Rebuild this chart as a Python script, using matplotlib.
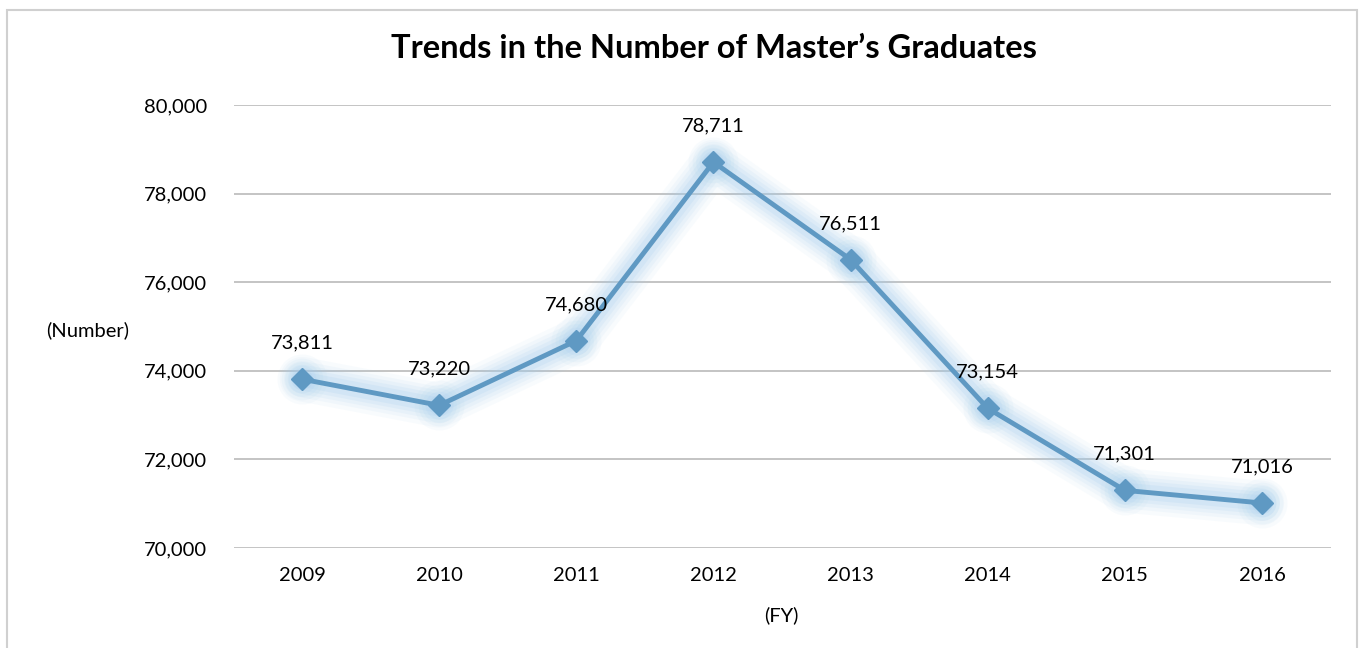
import matplotlib.pyplot as plt
from matplotlib.patches import Rectangle
from matplotlib.ticker import FuncFormatter

# chart data
years = ["2009", "2010", "2011", "2012", "2013", "2014", "2015", "2016"]
graduates = [73811, 73220, 74680, 78711, 76511, 73154, 71301, 71016]

line_color = "#5F99C3"
glow_color = "#A3CDED"

plt.rcParams['font.family'] = ['Lato', 'DejaVu Sans']

fig = plt.figure(figsize=(13.6, 6.48), dpi=100)
ax = fig.add_axes([233.5 / 1360, 100 / 648, 1097 / 1360, 443 / 648])

# outer chart border
fig.patches.append(Rectangle((7 / 1360, -0.05), 1350 / 1360, 1.05 - 10 / 648,
                             transform=fig.transFigure, fill=False,
                             edgecolor="#D0D0D0", linewidth=1.5))

x = range(len(years))

# soft glow behind the line
for w, a in [(32, 0.07), (26, 0.09), (21, 0.11), (16, 0.14), (11, 0.18)]:
    ax.plot(x, graduates, color=glow_color, linewidth=w, alpha=a,
            solid_capstyle="round", solid_joinstyle="round", zorder=2)
    ax.plot(x, graduates, linestyle="none", marker="o", markersize=w + 4,
            color=glow_color, alpha=a, markeredgewidth=0, zorder=2)

ax.plot(x, graduates, color=line_color, linewidth=3.5, marker="D",
        markersize=11, markerfacecolor=line_color, markeredgecolor=line_color,
        zorder=3)

fs = 14.5
for xi, v in zip(x, graduates):
    ax.annotate(f"{v:,}", (xi, v), xytext=(0, 26), textcoords="offset points",
                ha="center", va="center", fontsize=fs, color="#000000",
                zorder=4)

ax.set_xlim(-0.5, len(years) - 0.5)
ax.set_ylim(70000, 80000)
ax.set_yticks(range(70000, 80001, 2000))
ax.yaxis.set_major_formatter(FuncFormatter(lambda v, p: f"{int(v):,}"))
ax.set_xticks(list(x))
ax.set_xticklabels(years)
ax.tick_params(axis="both", length=0, labelsize=fs, colors="#000000")
ax.tick_params(axis="y", pad=19)
ax.tick_params(axis="x", pad=14)

ax.grid(axis="y", color="#BFBFBF", linewidth=1.3)
ax.set_axisbelow(True)
for s in ax.spines.values():
    s.set_visible(False)

fig.text(88 / 1360, 1 - 330 / 648, "(Number)", ha="center", va="center",
         fontsize=fs)
fig.text(781 / 1360, 1 - 615 / 648, "(FY)", ha="center", va="center",
         fontsize=fs)
fig.text(714 / 1360, 1 - 48 / 648, "Trends in the Number of Master\u2019s Graduates",
         ha="center", va="center", fontsize=23.5, fontweight="bold")

fig.savefig("out.png", dpi=100)
